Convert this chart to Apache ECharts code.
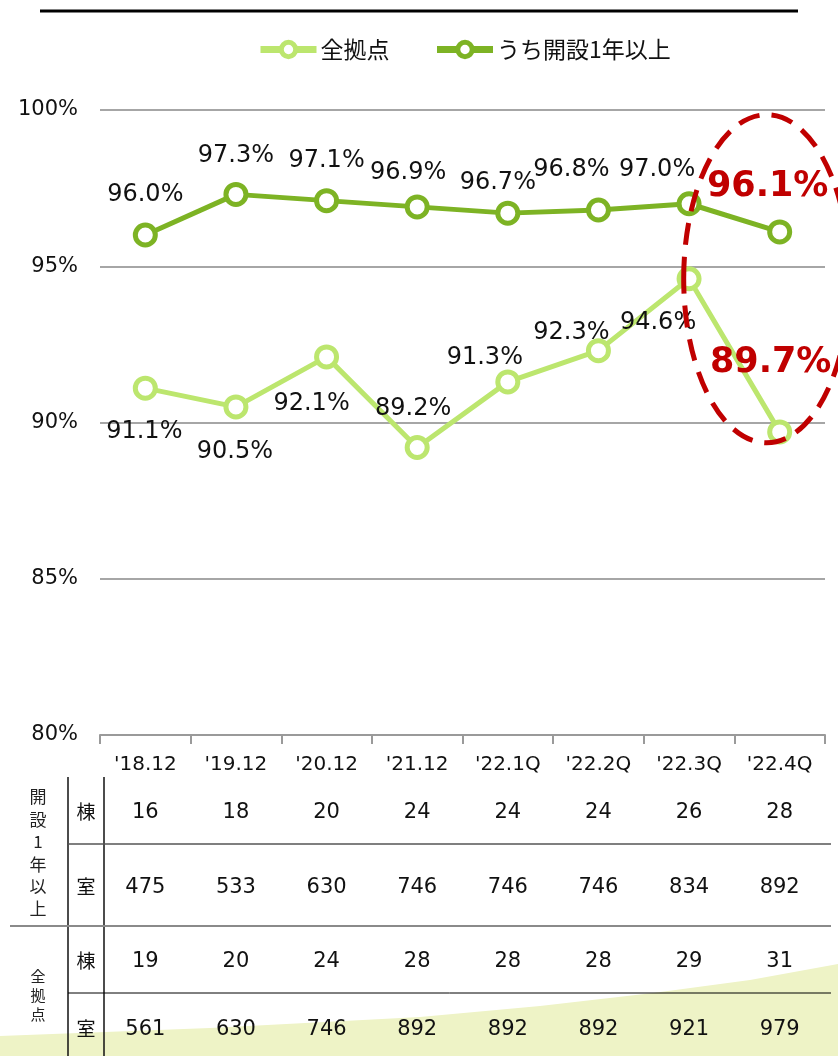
<!DOCTYPE html>
<html>
<head>
<meta charset="utf-8">
<script src="https://cdn.jsdelivr.net/npm/echarts@6/dist/echarts.min.js"></script>
<style>
html,body{margin:0;padding:0;background:#fff;}
#c{width:838px;height:1056px;}
</style>
</head>
<body>
<div id="c"></div>
<script>
// ---- data ----
const categories = ["'18.12", "'19.12", "'20.12", "'21.12", "'22.1Q", "'22.2Q", "'22.3Q", "'22.4Q"];
const seriesNames = ["全拠点", "うち開設1年以上"];
const allSites = [91.1, 90.5, 92.1, 89.2, 91.3, 92.3, 94.6, 89.7];
const over1Year = [96.0, 97.3, 97.1, 96.9, 96.7, 96.8, 97.0, 96.1];
const yMin = 80, yMax = 100, yStep = 5;
const over1YearBldg = [16, 18, 20, 24, 24, 24, 26, 28];
const over1YearRoom = [475, 533, 630, 746, 746, 746, 834, 892];
const allBldg = [19, 20, 24, 28, 28, 28, 29, 31];
const allRoom = [561, 630, 746, 892, 892, 892, 921, 979];
const groupLabel1 = "開設1年以上";
const groupLabel2 = "全拠点";
const unitBldg = "棟";
const unitRoom = "室";

// ---- style ----
const LIGHT = '#bce66e', DARK = '#7db324', RED = '#c00000';
const FONT = 'DejaVu Sans, Verdana, sans-serif';
const CJK = 'Noto Sans CJK JP, sans-serif';
const offAll = [[-1,44],[-1,45],[-15,47],[-4,-39],[-23,-24],[-27,-18],[-31,44],[-9,-69]];
const offOver = [[0,-40],[0,-39],[0,-40],[-9,-34],[-10,-30],[-27,-40],[-32,-34],[-12,-45]];

function mkData(vals, offs){
  return vals.map((v,i)=>{
    const last = i === vals.length-1;
    const d = {value: v, label: {offset: offs[i]}};
    if (last) {
      d.label.color = RED; d.label.fontWeight = 'bold'; d.label.fontSize = 35;
    }
    return d;
  });
}

const chart = echarts.init(document.getElementById('c'), null, {renderer:'canvas'});
const symbolStyle = (c)=>({color:'#fff', borderColor:c, borderWidth:5});
chart.setOption({
  animation:false,
  textStyle:{fontFamily:FONT},
  legend:{
    left:257, top:38, padding:0, itemWidth:56, itemHeight:18, itemGap:44,
    lineStyle:{width:7},
    itemStyle:{borderWidth:5},
    textStyle:{fontFamily:CJK, fontSize:23, color:'#111', padding:[0,0,0,-1]},
    data:seriesNames
  },
  grid:{left:100, right:13, top:110, bottom:321, containLabel:false},
  xAxis:{
    type:'category', data:categories, boundaryGap:true,
    axisLine:{lineStyle:{color:'#9a9a9a', width:2}},
    axisTick:{show:true, length:9, lineStyle:{color:'#9a9a9a', width:2}},
    axisLabel:{fontFamily:FONT, fontSize:20, color:'#111', margin:20}
  },
  yAxis:{
    type:'value', min:yMin, max:yMax, interval:yStep,
    axisLine:{show:false}, axisTick:{show:false},
    axisLabel:{fontFamily:FONT, fontSize:21, color:'#111', margin:22, formatter:'{value}%'},
    splitLine:{lineStyle:{color:'#a6a6a6', width:2}}
  },
  series:[
    {
      name:seriesNames[0], type:'line', data:mkData(allSites, offAll),
      symbol:'circle', symbolSize:20, showAllSymbol:true,
      lineStyle:{color:LIGHT, width:5}, itemStyle:symbolStyle(LIGHT),
      label:{show:true, position:'inside', fontFamily:FONT, fontSize:24, color:'#111',
        formatter:p=>p.value.toFixed(1)+'%'},
      z:3
    },
    {
      name:seriesNames[1], type:'line', data:mkData(over1Year, offOver),
      symbol:'circle', symbolSize:20, showAllSymbol:true,
      lineStyle:{color:DARK, width:5}, itemStyle:symbolStyle(DARK),
      label:{show:true, position:'inside', fontFamily:FONT, fontSize:24, color:'#111',
        formatter:p=>p.value.toFixed(1)+'%'},
      z:3
    }
  ]
});

// ---- table, decorations ----
const g = [];
// background band
g.push({type:'polygon', silent:true, z:-10,
  shape:{points:[[0,1036],[210,1028],[420,1017],[540,1006],[653,993],[750,980],[838,964],[838,1056],[0,1056]]},
  style:{fill:'#eef3c6'}});
// top rule
g.push({type:'line', shape:{x1:40,y1:11,x2:798,y2:11}, style:{stroke:'#000', lineWidth:3}});
// table lines
g.push({type:'line', shape:{x1:68,y1:777,x2:68,y2:1056}, style:{stroke:'#111', lineWidth:1.5}});
g.push({type:'line', shape:{x1:104,y1:777,x2:104,y2:1056}, style:{stroke:'#111', lineWidth:1.5}});
g.push({type:'line', shape:{x1:68,y1:844,x2:831,y2:844}, style:{stroke:'#555', lineWidth:1.5}});
g.push({type:'line', shape:{x1:10,y1:926,x2:831,y2:926}, style:{stroke:'#8a8a8a', lineWidth:2}});
g.push({type:'line', shape:{x1:68,y1:993,x2:831,y2:993}, style:{stroke:'#000', lineWidth:1}});

const rows = [[over1YearBldg, 812, unitBldg],[over1YearRoom, 887, unitRoom],[allBldg, 961, unitBldg],[allRoom, 1029, unitRoom]];
rows.forEach(([vals, y, unit])=>{
  g.push({type:'text', style:{text:unit, x:86, y:y, align:'center', verticalAlign:'middle', font:'19px '+CJK, fill:'#111'}});
  vals.forEach((v,i)=>{
    const x = chart.convertToPixel({xAxisIndex:0}, categories[i]);
    g.push({type:'text', style:{text:String(v), x:x, y:y+1, align:'center', verticalAlign:'middle', font:'21px '+FONT, fill:'#111'}});
  });
});
// vertical group labels
Array.from(groupLabel1).forEach((ch,i)=>{
  g.push({type:'text', style:{text:ch, x:38, y:797+i*22.4, align:'center', verticalAlign:'middle', font:'17px '+CJK, fill:'#222'}});
});
Array.from(groupLabel2).forEach((ch,i)=>{
  g.push({type:'text', style:{text:ch, x:38, y:976+i*19, align:'center', verticalAlign:'middle', font:'15px '+CJK, fill:'#222'}});
});
// red dashed ellipse highlighting last period
const cx = chart.convertToPixel({xAxisIndex:0}, categories[7]) - 13;
const cy = chart.convertToPixel({yAxisIndex:0}, 94.6);
g.push({type:'ellipse', z:100, x:cx, y:cy,
  shape:{cx:0, cy:0, rx:83, ry:164},
  style:{fill:'none', stroke:RED, lineWidth:5, lineDash:[22,12]}});

chart.setOption({graphic:g});
</script>
</body>
</html>
